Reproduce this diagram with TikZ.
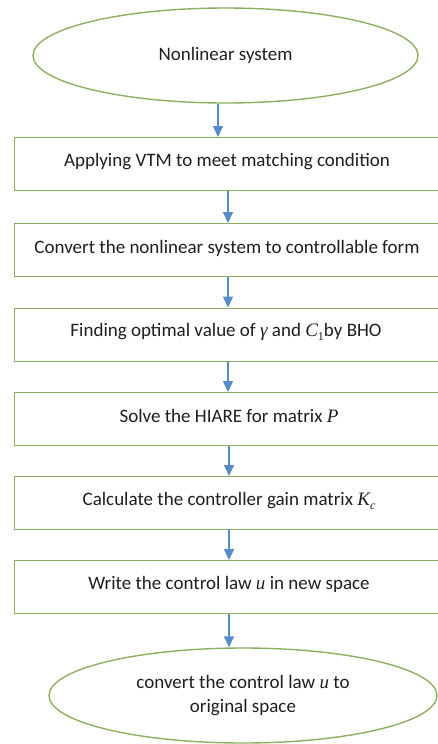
\documentclass[tikz,border=0pt]{standalone}
\usepackage{fontspec}
\setmainfont{Carlito}
\newfontfamily\symfont{Liberation Serif}
\usetikzlibrary{shapes.geometric,arrows.meta}
\definecolor{boxgreen}{RGB}{140,176,96}
\definecolor{arrowblue}{RGB}{88,140,200}
\definecolor{txt}{RGB}{30,30,30}
% italic symbols set in a serif face
\newcommand{\sym}[1]{{\symfont\itshape #1}}
\newcommand{\symsub}[2]{{\symfont\itshape #1}\raisebox{-0.25em}{\symfont\fontsize{12}{12}\selectfont #2}}
\tikzset{
  stepbox/.style={draw=boxgreen, line width=1.4pt, rectangle, minimum height=53pt,
    minimum width=440pt, anchor=north west},
  label/.style={text=txt, font=\fontsize{19}{23}\selectfont},
  termin/.style={draw=boxgreen, line width=1.4pt, ellipse, minimum width=385pt,
    minimum height=95pt, inner sep=0pt, text=txt, font=\fontsize{19}{24}\selectfont, align=center},
  flow/.style={draw=arrowblue, line width=1.5pt, -{Triangle[width=10pt,length=11pt]}},
}
\begin{document}
\begin{tikzpicture}[x=1pt,y=-1pt]
\useasboundingbox (0,0) rectangle (438,744);
\clip (0,0) rectangle (438,744);

% terminal shapes
\node[termin] (start) at (225.5,55.5) {Nonlinear system};
\node[termin, minimum width=388pt] (finish) at (243,695.5) {convert the control law \sym{u} to\\original space};

% process steps (right edges run past the page border)
\node[stepbox] (s1) at (14,137) {};
\node[label] (t1) at (227,162) {Applying VTM to meet matching condition};
\node[stepbox] (s2) at (14,223) {};
\node[label] (t2) at (227,248) {Convert the nonlinear system to controllable form};
\node[stepbox] (s3) at (14,307.5) {};
\node[label] (t3) at (226,332) {Finding optimal value of \sym{γ} and \symsub{C}{1}by BHO};
\node[stepbox] (s4) at (14,392) {};
\node[label] (t4) at (229,416) {Solve the HIARE for matrix \sym{P}};
\node[stepbox] (s5) at (14,476) {};
\node[label] (t5) at (229,501) {Calculate the controller gain matrix \symsub{K}{\itshape c}};
\node[stepbox] (s6) at (14,560) {};
\node[label] (t6) at (229,584) {Write the control law \sym{u} in new space};

% connectors
\draw[flow] (start.south -| 218,0) -- (s1.north -| 218,0);
\draw[flow] (s1.south -| 228,0) -- (s2.north -| 228,0);
\draw[flow] (s2.south -| 228,0) -- (s3.north -| 228,0);
\draw[flow] (s3.south -| 228,0) -- (s4.north -| 228,0);
\draw[flow] (s4.south -| 229,0) -- (s5.north -| 229,0);
\draw[flow] (s5.south -| 229,0) -- (s6.north -| 229,0);
\draw[flow] (s6.south -| 229,0) -- (finish.north -| 229,0);
\end{tikzpicture}
\end{document}
